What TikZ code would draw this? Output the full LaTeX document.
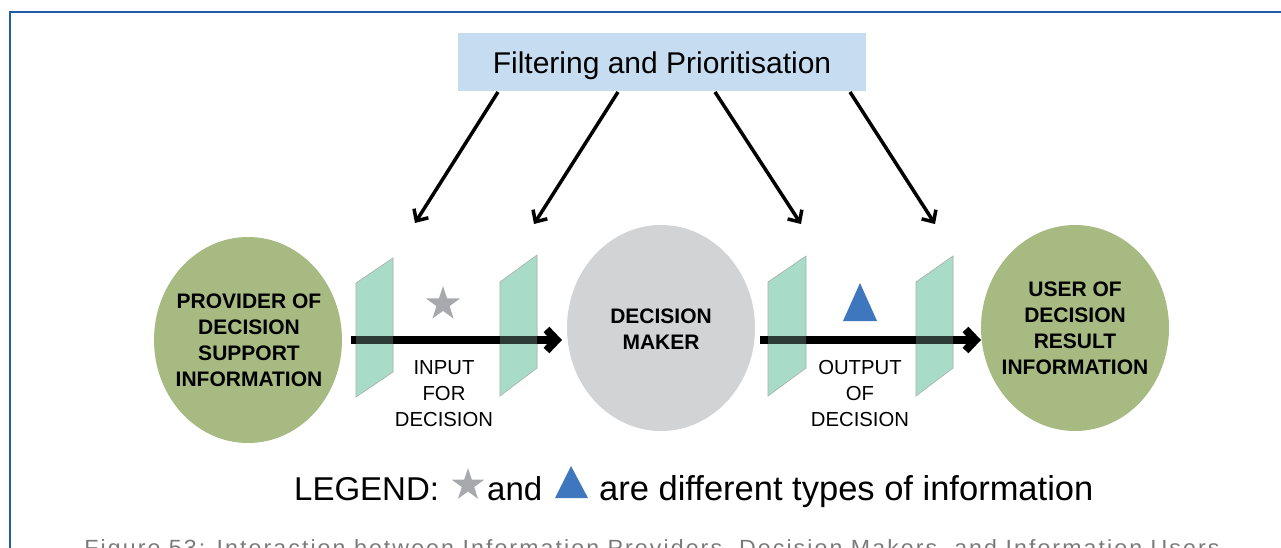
\documentclass[tikz,border=0pt]{standalone}
\usepackage{fontspec}
\setmainfont{Liberation Sans}
\newfontfamily\capfont[LetterSpace=9]{Liberation Sans}
\usetikzlibrary{shapes.geometric,arrows.meta}
\definecolor{frameblue}{HTML}{1E5FA8}
\definecolor{boxblue}{HTML}{C6DCF0}
\definecolor{ovalgreen}{HTML}{A6BA82}
\definecolor{dmgray}{HTML}{D1D3D4}
\definecolor{mint}{HTML}{A8DCC8}
\definecolor{stargray}{HTML}{A7A9AC}
\definecolor{triblue}{HTML}{3E77BE}
\definecolor{capgray}{HTML}{7A7A7A}
\tikzset{
  oval/.style={ellipse, inner sep=0pt, minimum width=188pt, minimum height=206pt},
  ovaltext/.style={align=center, font=\bfseries\fontsize{21}{26}\selectfont},
  lbl/.style={align=center, font=\fontsize{20.3}{26}\selectfont},
  panel/.style={fill=mint, draw=gray!70, line width=0.6pt},
  panelshade/.style={fill=mint, fill opacity=0.27},
  diagarrow/.style={line width=3.5pt, -{Straight Barb[length=9pt,width=17pt]}},
  flowarrow/.style={line width=8pt, -{Straight Barb[length=10pt,width=21pt]}},
  starsym/.style={star, star points=5, star point ratio=2.6, fill=stargray, inner sep=0pt, minimum size=36pt},
}
\begin{document}
\begin{tikzpicture}[x=1pt,y=-1pt]
\useasboundingbox (0,0) rectangle (1281,548);
% frame
\draw[frameblue, line width=2pt] (10,560) -- (10,12.5) -- (1290,12.5);
% top box
\node[fill=boxblue, minimum width=408pt, minimum height=58pt, inner sep=0pt] (filt) at (662,62) {};
\node[inner sep=0pt, anchor=base, font=\fontsize{30}{34}\selectfont] (filtt) at (662,74) {Filtering and Prioritisation};
% ovals
\node[oval, fill=ovalgreen] (prov) at (248,340) {};
\node[ovaltext] (provt) at (249,340) {PROVIDER OF\\DECISION\\SUPPORT\\INFORMATION};
\node[oval, fill=dmgray] (dm) at (661,328) {};
\node[ovaltext] (dmt) at (661,329) {DECISION\\MAKER};
\node[oval, fill=ovalgreen] (user) at (1075,328) {};
\node[ovaltext] (usert) at (1075,328) {USER OF\\DECISION\\RESULT\\INFORMATION};
% diagonal arrows
\coordinate (d1s) at (498,92); \coordinate (d1e) at (415,223);
\coordinate (d2s) at (618,92); \coordinate (d2e) at (534,224);
\coordinate (d3s) at (715,92); \coordinate (d3e) at (801,224);
\coordinate (d4s) at (850,92); \coordinate (d4e) at (935,224);
\draw[diagarrow] (d1s) -- (d1e);
\draw[diagarrow] (d2s) -- (d2e);
\draw[diagarrow] (d3s) -- (d3e);
\draw[diagarrow] (d4s) -- (d4e);
% panels
\path[panel] (356,283) -- (393,258) -- (393,372) -- (356,397) -- cycle;
\path[panel] (500,282) -- (537,255) -- (537,368) -- (500,396) -- cycle;
\path[panel] (768,282) -- (806,256) -- (806,368) -- (768,396) -- cycle;
\path[panel] (916,282) -- (953,256) -- (953,368) -- (916,396) -- cycle;
% flow arrows
\coordinate (f1s) at (351,340); \coordinate (f1e) at (562,340);
\coordinate (f2s) at (760,340); \coordinate (f2e) at (981,340);
\draw[flowarrow] (f1s) -- (f1e);
\draw[flowarrow] (f2s) -- (f2e);
% panel shading over arrows
\path[panelshade] (356,283) -- (393,258) -- (393,372) -- (356,397) -- cycle;
\path[panelshade] (500,282) -- (537,255) -- (537,368) -- (500,396) -- cycle;
\path[panelshade] (768,282) -- (806,256) -- (806,368) -- (768,396) -- cycle;
\path[panelshade] (916,282) -- (953,256) -- (953,368) -- (916,396) -- cycle;
% symbols
\node[starsym] (star1) at (443,304) {};
\fill[triblue] (843,321) -- (860,283) -- (877,321) -- cycle;
% labels
\node[lbl] (inl) at (444,394) {INPUT\\FOR\\DECISION};
\node[lbl] (outl) at (860,394) {OUTPUT\\OF\\DECISION};
% legend
\node[anchor=base west, inner sep=0pt, font=\fontsize{33}{40}\selectfont] (lg1) at (294,500) {LEGEND:};
\node[starsym, minimum size=34pt] (star2) at (468,485) {};
\node[anchor=base west, inner sep=0pt, font=\fontsize{33}{40}\selectfont] (lg2) at (487,500) {and};
\fill[triblue] (555,498) -- (571,466) -- (588,498) -- cycle;
\node[anchor=base west, inner sep=0pt, font=\fontsize{34.5}{40}\selectfont] (lg3) at (599,500) {are different types of information};
% caption
\node[anchor=base, inner sep=0pt, text=capgray, font=\capfont\fontsize{22}{26}\selectfont] (cap) at (652,555)
  {\resizebox{1135pt}{\height}{Figure 53: Interaction between Information Providers, Decision Makers, and Information Users}};
\end{tikzpicture}
\end{document}
